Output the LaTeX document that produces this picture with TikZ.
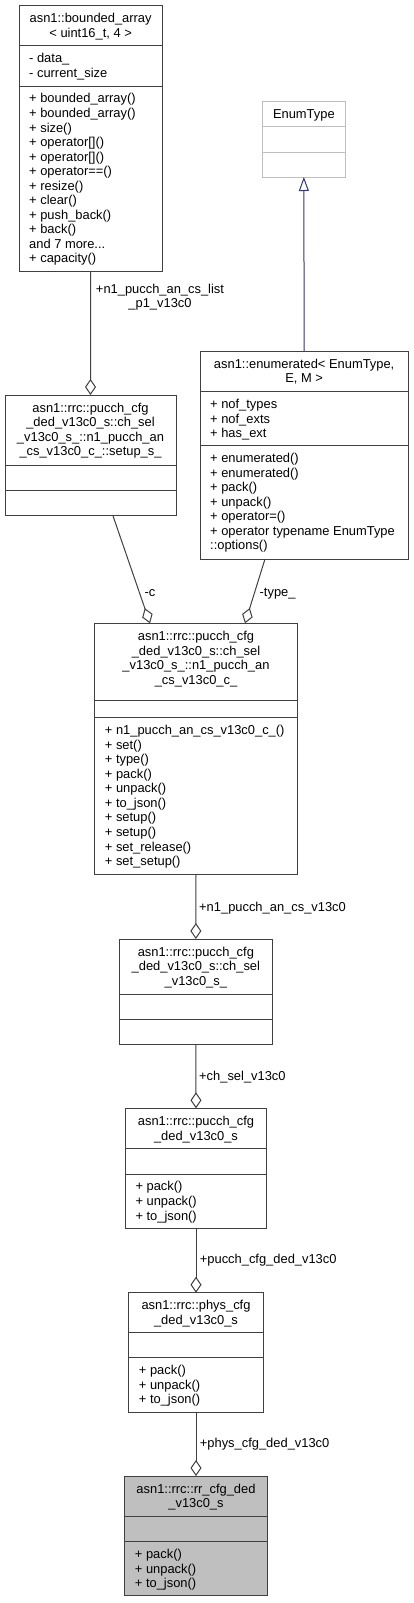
\documentclass[tikz,border=0pt]{standalone}
\usepackage{fontspec}
\setmainfont{Liberation Sans}
\usetikzlibrary{arrows.meta}
\definecolor{boxc}{HTML}{404040}
\definecolor{edgec}{HTML}{404040}
\definecolor{inhc}{HTML}{2E3587}
\definecolor{grayfill}{HTML}{BFBFBF}
\definecolor{grayline}{HTML}{BFBFBF}
\newcommand\umlfont{\fontsize{12.9}{14.55}\selectfont}
\newcommand\st{\rule{0pt}{11pt}}
\tikzset{
  box/.style={draw=boxc, line width=1pt, inner sep=0pt, outer sep=0pt, anchor=north west, fill=white},
  sepline/.style={draw=boxc, line width=1pt},
  ttl/.style={inner sep=0pt, anchor=north, align=center, font=\umlfont},
  mem/.style={inner sep=0pt, anchor=north west, align=left, font=\umlfont},
  lbl/.style={inner sep=0pt, anchor=base west, font=\umlfont},
  agg/.style={draw=edgec, line width=1pt, -{Diamond[open, length=16pt, width=11pt, line width=1pt]}},
  inhe/.style={draw=inhc, line width=1pt, -{Triangle[open, length=14pt, width=10pt, line width=1pt]}},
}
% [style] name L T R s1 s2 B
\newcommand\umlbox[8][]{%
  \node[box,#1,minimum width={#5pt-#3pt}, minimum height={#8pt-#4pt}] (#2) at (#3,#4) {};
  \draw[sepline,#1] (#3,#6) -- (#5,#6);
  \draw[sepline,#1] (#3,#7) -- (#5,#7);
}
\begin{document}
\begin{tikzpicture}[x=1pt,y=-1pt]
\useasboundingbox (0,0) rectangle (413,1603);
\fill[white] (0,0) rectangle (413,1603);

% boxes
\umlbox{bounded}{19}{5.3}{162.3}{46}{86}{271.7}
\umlbox[draw=grayline]{enumtype}{262}{101.3}{345.7}{126.7}{152}{177}
\umlbox{enumerated}{200}{351}{408.3}{391.7}{445.7}{559}
\umlbox{setup}{5}{395}{176}{465}{490}{515}
\umlbox{cs}{94.7}{623.3}{297.3}{700}{717.7}{874.3}
\umlbox{chsel}{119.7}{939}{272}{994}{1019}{1044.3}
\umlbox{pucch}{125.3}{1108.3}{266.7}{1148.3}{1174}{1228.3}
\umlbox{phys}{128.7}{1292.7}{263.3}{1332.7}{1357.7}{1412.3}
\umlbox[fill=grayfill]{rr}{124.7}{1476}{267.3}{1516.7}{1541.7}{1595.7}

% texts
\node[ttl] (bounded-t) at (90.65,11.3) {\st asn1::bounded\_array\\< uint16\_t, 4 >};
\node[mem] (bounded-a) at (29,51.7) {\st - data\_\\- current\_size};
\node[mem] (bounded-m) at (29,91.7) {\st + bounded\_array()\\+ bounded\_array()\\+ size()\\+ operator[]()\\+ operator[]()\\+ operator==()\\+ resize()\\+ clear()\\+ push\_back()\\+ back()\\and 7 more...\\+ capacity()};

\node[ttl] (enumtype-t) at (303.85,107.3) {\st EnumType};

\node[ttl] (enumerated-t) at (304.15,357) {\st asn1::enumerated< EnumType,\\E, M >};
\node[mem] (enumerated-a) at (210,397.4) {\st + nof\_types\\+ nof\_exts\\+ has\_ext};
\node[mem] (enumerated-m) at (210,451.4) {\st + enumerated()\\+ enumerated()\\+ pack()\\+ unpack()\\+ operator=()\\+ operator typename EnumType\\::options()};

\node[ttl] (setup-t) at (90.5,401) {\st asn1::rrc::pucch\_cfg\\\_ded\_v13c0\_s::ch\_sel\\\_v13c0\_s\_::n1\_pucch\_an\\\_cs\_v13c0\_c\_::setup\_s\_};

\node[ttl] (cs-t) at (196,629.3) {\st asn1::rrc::pucch\_cfg\\\_ded\_v13c0\_s::ch\_sel\\\_v13c0\_s\_::n1\_pucch\_an\\\_cs\_v13c0\_c\_};
\node[mem] (cs-m) at (104.7,723.4) {\st + n1\_pucch\_an\_cs\_v13c0\_c\_()\\+ set()\\+ type()\\+ pack()\\+ unpack()\\+ to\_json()\\+ setup()\\+ setup()\\+ set\_release()\\+ set\_setup()};

\node[ttl] (chsel-t) at (195.85,945) {\st asn1::rrc::pucch\_cfg\\\_ded\_v13c0\_s::ch\_sel\\\_v13c0\_s\_};

\node[ttl] (pucch-t) at (196,1114.3) {\st asn1::rrc::pucch\_cfg\\\_ded\_v13c0\_s};
\node[mem] (pucch-m) at (135.3,1179.7) {\st + pack()\\+ unpack()\\+ to\_json()};

\node[ttl] (phys-t) at (196,1298.7) {\st asn1::rrc::phys\_cfg\\\_ded\_v13c0\_s};
\node[mem] (phys-m) at (138.7,1363.4) {\st + pack()\\+ unpack()\\+ to\_json()};

\node[ttl] (rr-t) at (196,1482) {\st asn1::rrc::rr\_cfg\_ded\\\_v13c0\_s};
\node[mem] (rr-m) at (134.7,1547.4) {\st + pack()\\+ unpack()\\+ to\_json()};

% connectors
\draw[inhe] (enumerated.north) -- (enumtype.south);
\draw[agg] (bounded.south) -- (setup.north);
\draw[agg] ([xshift=22.2pt]setup.south) -- ([xshift=-46pt]cs.north);
\draw[agg] ([xshift=-39.15pt]enumerated.south) -- ([xshift=49pt]cs.north);
\draw[agg] (cs.south) -- (chsel.north);
\draw[agg] (chsel.south) -- (pucch.north);
\draw[agg] (pucch.south) -- (phys.north);
\draw[agg] (phys.south) -- (rr.north);

% labels
\node[inner sep=0pt, anchor=base, align=center, font=\umlfont] (l1) at (160,307.8) {+n1\_pucch\_an\_cs\_list\\\_p1\_v13c0};
\node[lbl] (l2) at (144.5,596.8) {-c};
\node[lbl] (l3) at (259.5,596.2) {-type\_};
\node[lbl] (l4) at (199,911.2) {+n1\_pucch\_an\_cs\_v13c0};
\node[lbl] (l5) at (199,1080.2) {+ch\_sel\_v13c0};
\node[lbl] (l6) at (199.7,1263.8) {+pucch\_cfg\_ded\_v13c0};
\node[lbl] (l7) at (199.7,1447.8) {+phys\_cfg\_ded\_v13c0};
\end{tikzpicture}
\end{document}
